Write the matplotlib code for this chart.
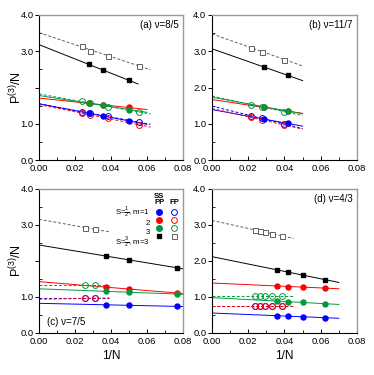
import numpy as np
import matplotlib
matplotlib.use('Agg')
import matplotlib.pyplot as plt
from matplotlib.lines import Line2D
from matplotlib.ticker import MultipleLocator, FormatStrFormatter

plt.rcParams['font.family'] = ['Liberation Sans', 'DejaVu Sans']
plt.rcParams['mathtext.fontset'] = 'custom'
plt.rcParams['mathtext.rm'] = 'Liberation Sans'
plt.rcParams['mathtext.it'] = 'Liberation Sans:italic'

# panel titles
panels = ['(a) ν=8/5', '(b) ν=11/7', '(c) ν=7/5', '(d) ν=4/3']
legend_labels = ['S=$\\frac{1}{2}$, m=1', '2', '3', 'S=$\\frac{3}{2}$, m=3']

# 1/N of the points, per panel
x_pp = [[0.0278, 0.0357, 0.05],
        [0.0286, 0.0417],
        [0.037, 0.05, 0.0769],
        [0.0357, 0.0417, 0.05, 0.0625]]
x_fp = [[0.0238, 0.0286, 0.0385, 0.0556],
        [0.0213, 0.0278, 0.04],
        [0.0256, 0.0312],
        [0.0238, 0.0263, 0.0294, 0.0333, 0.0385]]

# P(3)/N, periodic (PP, filled) and free (FP, open) boundaries
m1_pp = [[1.29, 1.21, 1.08], [1.13, 1.01], [0.785, 0.767, 0.74], [0.48, 0.47, 0.45, 0.425]]
m2_pp = [[1.57, 1.51, 1.45], [1.45, 1.35], [1.275, 1.22, 1.11], [1.31, 1.29, 1.275, 1.247]]
m3_pp = [[1.56, 1.51, 1.39], [1.47, 1.35], [1.155, 1.136, 1.08], [0.887, 0.868, 0.85, 0.813]]
s3_pp = [[2.64, 2.47, 2.20], [2.566, 2.336], [2.14, 2.03, 1.81], [1.755, 1.69, 1.617, 1.478]]

m1_fp = [[1.33, 1.29, 1.21, 1.04], [1.22, 1.15, 0.99], [0.985, 0.985],
         [0.745, 0.745, 0.745, 0.745, 0.745]]
m2_fp = [[1.29, 1.24, 1.15, 0.97], [1.18, 1.10, 0.966], [0.96, 0.965],
         [0.75, 0.75, 0.75, 0.75, 0.75]]
m3_fp = [[1.62, 1.56, 1.47, 1.33], [1.53, 1.47, 1.33], [1.32, 1.32],
         [1.03, 1.03, 1.03, 1.03, 1.03]]
s3_fp = [[3.14, 3.02, 2.87, 2.60], [3.10, 2.99, 2.77], [2.93, 2.88],
         [2.855, 2.84, 2.81, 2.75, 2.70]]

# how far the linear fits are drawn
end_pp = [0.06, 0.05, 0.08, 0.07]
end_s3_pp = [0.055, 0.05, 0.08, 0.07]
end_fp = [0.062, 0.05, 0.039, 0.045]

blue = '#0000ff'
red = '#ff0000'
green = '#009a3e'
gray = '#606060'

boxes = [[0.1043, 0.5733, 0.385, 0.3867],
         [0.5668, 0.5733, 0.3877, 0.3867],
         [0.1043, 0.112, 0.385, 0.384],
         [0.5668, 0.112, 0.3877, 0.384]]

fig = plt.figure(figsize=(3.74, 3.75), dpi=100)


def fit_line(ax, x, y, xend, color, ls, lw=0.7):
    k, b = np.polyfit(x, y, 1)
    xx = np.array([0.0, xend])
    ax.plot(xx, b + k * xx, color=color, ls=ls, lw=lw, dashes=(3, 2) if ls == '--' else (None, None), zorder=2)


for i, box in enumerate(boxes):
    ax = fig.add_axes(box)
    series = [(m1_pp[i], m1_fp[i], blue, blue),
              (m2_pp[i], m2_fp[i], red, red),
              (m3_pp[i], m3_fp[i], green, green),
              (s3_pp[i], s3_fp[i], 'black', gray)]
    for pp, fp, c_pp, c_fp in series:
        fit_line(ax, x_fp[i], fp, end_fp[i], c_fp, '--')
        fit_line(ax, x_pp[i], pp, end_s3_pp[i] if c_pp == 'black' else end_pp[i], c_pp, '-')
    for pp, fp, c_pp, c_fp in series:
        if c_pp == 'black':
            ax.plot(x_fp[i], fp, ls='none', marker='s', ms=3.6, mfc='white', mec=c_fp, mew=0.7, zorder=3)
            ax.plot(x_pp[i], pp, ls='none', marker='s', ms=3.2, color=c_pp, zorder=4)
        else:
            ax.plot(x_fp[i], fp, ls='none', marker='o', ms=4.2, mfc='none', mec=c_fp, mew=0.7, zorder=3)
            ax.plot(x_pp[i], pp, ls='none', marker='o', ms=3.6, color=c_pp, zorder=4)

    ax.set_xlim(0, 0.08)
    ax.set_ylim(0, 4)
    ax.xaxis.set_major_locator(MultipleLocator(0.02))
    ax.xaxis.set_minor_locator(MultipleLocator(0.01))
    ax.xaxis.set_major_formatter(FormatStrFormatter('%.2f'))
    ax.set_yticks([0, 1, 2, 3, 4])
    if i % 2 == 0:
        ax.set_yticklabels(['0.0', '1.0', '', '3.0', '4.0'])
        ax.set_ylabel('P$^{(3)}$/N', fontsize=9, labelpad=-3)
    else:
        ax.set_yticklabels(['0.0', '1.0', '2.0', '3.0', '4.0'])
    ax.yaxis.set_minor_locator(MultipleLocator(0.5))
    ax.tick_params(axis='x', which='major', direction='in', length=3, width=0.7, labelsize=6.8, pad=3)
    ax.tick_params(axis='x', which='minor', direction='in', length=2, width=0.6)
    ax.tick_params(axis='y', which='major', direction='out', length=3, width=0.7, labelsize=6.8, pad=1)
    ax.tick_params(axis='y', which='minor', direction='in', length=2, width=0.6)
    for s in ['top', 'right']:
        ax.spines[s].set_color('#9a9a9a')
        ax.spines[s].set_linewidth(1.0)
    for s in ['left', 'bottom']:
        ax.spines[s].set_linewidth(0.8)
    if i >= 2:
        ax.set_xlabel('1/N', fontsize=8.5, labelpad=3)

    if i == 2:
        ax.text(0.055, 0.078, panels[i], transform=ax.transAxes, fontsize=7, ha='left', va='center')
        handles = [Line2D([], [], ls='none', marker='o', ms=4, color=blue),
                   Line2D([], [], ls='none', marker='o', ms=4, color=red),
                   Line2D([], [], ls='none', marker='o', ms=4, color=green),
                   Line2D([], [], ls='none', marker='s', ms=3.4, color='black'),
                   Line2D([], [], ls='none', marker='o', ms=4.2, mfc='none', mec=blue, mew=0.7),
                   Line2D([], [], ls='none', marker='o', ms=4.2, mfc='none', mec=red, mew=0.7),
                   Line2D([], [], ls='none', marker='o', ms=4.2, mfc='none', mec=green, mew=0.7),
                   Line2D([], [], ls='none', marker='s', ms=3.6, mfc='white', mec=gray, mew=0.7)]
        ax.legend(handles, [''] * 8, ncol=2, loc='upper left',
                  bbox_to_anchor=(0.819, 0.857), frameon=False, fontsize=5,
                  handlelength=0.7, handletextpad=0.4, columnspacing=1.0,
                  labelspacing=0.14, borderpad=0, borderaxespad=0)
        for lab, ly in zip(legend_labels, [0.832, 0.760, 0.700, 0.628]):
            ax.text(0.768, ly, lab, transform=ax.transAxes, fontsize=5.6, ha='right', va='center')
        ax.text(0.836, 0.947, 'SS', transform=ax.transAxes, fontsize=5.6, weight='bold', ha='center', va='center')
        ax.text(0.836, 0.903, 'PP', transform=ax.transAxes, fontsize=5.6, weight='bold', ha='center', va='center')
        ax.text(0.9375, 0.903, 'FP', transform=ax.transAxes, fontsize=5.6, weight='bold', ha='center', va='center')
    else:
        ax.text(0.97, 0.93, panels[i], transform=ax.transAxes, fontsize=7, ha='right', va='center')

fig.savefig('out.png', dpi=100)
